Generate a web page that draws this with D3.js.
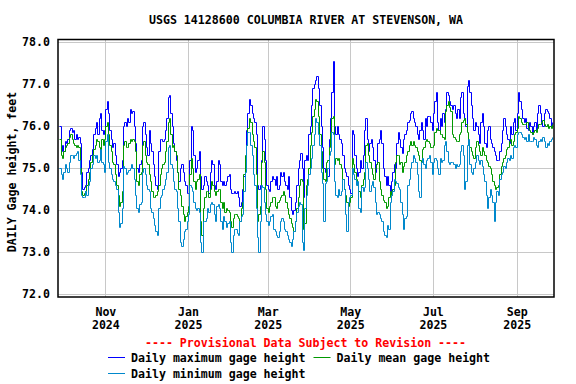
<!DOCTYPE html>
<html><head><meta charset="utf-8">
<title>USGS 14128600 gage height</title>
<script src="https://d3js.org/d3.v7.min.js"></script>
<style>
  body { margin: 0; background: #fff; }
  text { font-family: "DejaVu Sans Mono", monospace; font-weight: bold; }
</style>
</head>
<body>
<div id="container"></div>
<script>
// daily values, first day = startDate
const startDate = "2024-09-28";

const maxHeight = [
  76.0, 75.4, 75.55, 75.4, 75.65, 75.6, 75.7, 75.9, 75.95, 75.85,
  75.9, 75.7, 75.8, 75.7, 75.75, 75.6, 74.9, 74.5, 74.55, 74.6,
  74.9, 75.0, 75.2, 75.3, 75.45, 75.8, 75.95, 76.1, 75.8, 76.2,
  76.3, 75.9, 75.8, 75.9, 76.4, 76.6, 76.3, 75.9, 75.7, 75.5,
  75.6, 75.3, 75.1, 74.8, 74.9, 75.0, 75.2, 76.0, 76.1, 76.0,
  76.2, 76.1, 76.4, 76.3, 76.35, 76.0, 75.6, 75.0, 74.9, 75.1,
  75.2, 76.0, 76.1, 75.8, 75.5, 75.3, 75.9, 75.6, 75.4, 75.1,
  74.8, 74.6, 74.5, 75.4, 75.7, 75.7, 75.65, 75.7, 75.9, 76.2,
  76.7, 76.75, 76.3, 76.0, 75.6, 75.4, 75.2, 74.9, 74.7, 75.0,
  75.1, 74.9, 74.7, 74.6, 74.4, 74.4, 75.2, 76.0, 75.9, 75.3,
  74.9, 75.0, 75.2, 75.4, 74.8, 74.5, 74.6, 74.8, 74.7, 74.6,
  74.4, 74.9, 75.2, 75.1, 74.6, 74.5, 74.7, 75.2, 75.1, 74.7,
  74.6, 74.7, 74.6, 74.7, 74.8, 74.85, 74.5, 74.4, 74.4, 74.45,
  74.4, 74.45, 74.3, 74.1, 74.2, 74.5, 74.8, 75.2, 75.9, 76.3,
  76.65, 76.5, 76.3, 76.2, 76.1, 75.8, 74.6, 74.5, 74.6, 75.2,
  76.0, 75.7, 75.2, 74.6, 74.5, 74.45, 74.7, 74.8, 74.75, 74.6,
  74.8, 74.5, 74.6, 74.9, 74.8, 74.9, 74.7, 74.6, 74.5, 74.8,
  74.3, 74.0, 73.9, 74.0, 74.2, 74.6, 75.0, 75.2, 75.35, 75.0,
  74.3, 75.2, 75.3, 75.2, 75.8, 76.0, 76.5, 76.9, 77.0, 77.1,
  77.2, 76.9, 76.5, 76.0, 75.5, 75.0, 74.9, 75.0, 74.8, 75.7,
  76.2, 76.8, 77.55, 76.0, 75.8, 76.0, 75.8, 75.7, 75.6, 75.3,
  75.0, 74.9, 74.8, 74.6, 74.5, 74.4, 75.9, 75.8, 75.3, 75.0,
  74.8, 74.9, 75.2, 75.0, 75.3, 75.9, 76.2, 75.7, 75.4, 75.6,
  75.7, 75.5, 75.2, 74.9, 75.1, 75.6, 75.7, 75.9, 75.6, 75.0,
  74.8, 74.6, 74.8, 74.6, 74.4, 74.7, 74.9, 75.1, 75.0, 75.6,
  75.85, 75.7, 75.5, 75.35, 75.7, 75.8, 75.9, 76.1, 76.15, 76.3,
  76.35, 76.2, 76.1, 76.0, 75.8, 75.7, 75.9, 76.1, 75.9, 75.7,
  76.2, 76.0, 76.25, 76.25, 76.1, 75.9, 76.3, 76.6, 76.8, 76.1,
  75.9, 76.2, 76.0, 76.3, 76.1, 76.4, 76.8, 76.75, 76.6, 76.5,
  76.4, 76.5, 76.3, 76.2, 76.4, 76.2, 76.7, 76.8, 76.3, 76.2,
  76.0, 76.95, 77.1, 76.8, 76.5, 76.2, 75.9, 76.1, 76.0, 75.8,
  75.6, 76.1, 76.3, 76.0, 75.6, 75.5, 75.9, 76.0, 75.7, 75.6,
  75.5, 75.4, 75.3, 75.2, 75.2, 75.4, 75.6, 75.9, 76.2, 76.0,
  75.8, 75.7, 75.6, 76.0, 75.8, 76.1, 76.2, 75.9, 76.3, 76.8,
  76.6, 76.4, 76.2, 76.1, 76.2, 75.95, 75.9, 76.1, 76.0, 75.8,
  76.0, 76.1, 75.9, 76.3, 76.5, 76.3, 76.1, 76.0, 76.3, 76.4,
  76.35, 76.3, 76.2, 76.0, 76.1
];

const meanHeight = [
  75.7, 75.3, 75.25, 75.4, 75.5, 75.55, 75.6, 75.75, 75.8, 75.7,
  75.6, 75.55, 75.5, 75.55, 75.5, 75.0, 74.45, 74.35, 74.4, 74.45,
  74.6, 74.75, 74.9, 75.15, 75.3, 75.45, 75.55, 75.7, 75.65, 75.5,
  75.4, 75.7, 75.55, 75.7, 76.0, 76.1, 75.8, 75.55, 75.4, 75.15,
  75.1, 74.85, 74.6, 74.35, 74.1, 74.2, 74.45, 75.55, 75.65, 75.5,
  75.5, 75.6, 75.7, 75.65, 75.7, 75.65, 75.4, 74.7, 74.6, 74.85,
  74.9, 75.55, 75.65, 75.3, 75.15, 75.1, 74.85, 74.7, 74.45, 74.3,
  74.3, 74.35, 74.45, 74.6, 74.85, 75.0, 75.1, 75.15, 75.4, 75.65,
  76.1, 76.2, 75.8, 75.5, 75.55, 75.4, 75.3, 74.9, 74.5, 74.35,
  74.1, 73.9, 73.75, 73.85, 73.95, 74.1, 74.85, 75.25, 75.0, 74.7,
  74.5, 74.7, 74.75, 74.85, 73.75, 73.4, 74.05, 74.3, 74.45, 74.45,
  74.3, 74.5, 74.7, 74.6, 74.45, 74.35, 74.45, 74.5, 74.5, 74.2,
  74.05, 74.2, 73.95, 74.05, 74.0, 73.95, 73.75, 73.6, 73.8, 73.9,
  73.9, 73.85, 73.8, 73.75, 74.05, 74.2, 74.85, 75.3, 75.55, 75.95,
  76.2, 76.1, 75.8, 75.65, 75.5, 74.85, 73.75, 73.9, 74.1, 75.15,
  75.4, 75.15, 74.5, 74.05, 73.95, 74.1, 74.2, 74.3, 74.3, 74.1,
  74.05, 74.2, 74.25, 74.3, 74.35, 74.45, 74.35, 74.2, 74.05, 73.9,
  73.8, 73.7, 73.6, 73.5, 73.75, 74.05, 74.3, 74.6, 74.75, 74.7,
  73.55, 73.7, 74.6, 74.75, 75.0, 75.55, 75.85, 76.25, 76.4, 76.65,
  76.6, 76.25, 75.8, 75.4, 75.0, 74.75, 74.7, 75.15, 75.2, 75.5,
  75.85, 76.2, 76.25, 75.1, 75.25, 75.2, 75.25, 75.1, 75.0, 74.75,
  74.5, 74.35, 74.2, 74.1, 74.2, 74.3, 75.25, 75.1, 74.9, 74.75,
  74.6, 74.45, 74.3, 74.6, 74.75, 74.9, 75.55, 75.6, 75.3, 75.15,
  75.0, 74.85, 74.75, 75.0, 75.1, 75.15, 74.7, 74.5, 74.35, 74.25,
  74.2, 74.05, 74.1, 74.3, 74.45, 74.35, 74.5, 74.6, 75.15, 75.3,
  75.3, 75.1, 75.15, 74.9, 75.05, 75.15, 75.3, 75.4, 75.55, 75.65,
  75.55, 75.65, 75.55, 75.5, 75.4, 75.3, 75.2, 75.15, 75.45, 75.5,
  75.65, 75.7, 75.65, 75.6, 75.5, 75.5, 75.55, 75.85, 75.95, 75.9,
  75.9, 75.8, 75.8, 75.75, 75.7, 76.35, 76.5, 76.6, 76.45, 76.35,
  75.8, 75.75, 75.7, 75.65, 75.65, 75.8, 75.85, 76.1, 76.15, 76.2,
  76.05, 75.85, 75.55, 75.5, 75.4, 75.3, 75.25, 75.5, 75.65, 75.55,
  75.4, 75.3, 75.5, 75.4, 75.3, 75.2, 75.15, 75.05, 75.0, 74.85,
  74.7, 74.6, 74.5, 74.55, 74.6, 74.85, 75.05, 75.15, 75.25, 75.3,
  75.45, 75.5, 75.65, 75.7, 75.55, 75.65, 75.8, 75.85, 75.95, 76.25,
  76.2, 76.1, 76.05, 76.05, 76.05, 76.1, 75.95, 75.9, 75.85, 75.8,
  75.85, 75.9, 75.85, 75.95, 76.05, 76.05, 76.1, 76.15, 76.05, 76.0,
  76.05, 75.95, 76.0, 75.95, 76.05
];

const minHeight = [
  75.0, 74.85, 74.75, 74.9, 75.1, 75.0, 74.9, 75.15, 75.3, 75.3,
  75.25, 75.3, 75.35, 75.4, 75.2, 74.85, 74.35, 74.3, 74.3, 74.45,
  74.35, 74.6, 74.7, 75.0, 75.1, 75.3, 75.25, 75.3, 75.15, 75.2,
  75.45, 75.15, 75.1, 74.9, 75.65, 75.8, 75.15, 75.0, 74.85, 74.75,
  74.7, 74.6, 74.5, 73.95, 73.6, 73.7, 74.05, 75.05, 75.0, 74.85,
  74.9, 74.95, 75.0, 75.1, 75.0, 74.75, 74.35, 74.05, 73.95, 74.15,
  74.2, 74.9, 75.0, 74.85, 74.6, 74.5, 74.45, 74.05, 73.95, 73.8,
  73.65, 73.5, 73.4, 74.05, 74.3, 74.35, 74.5, 74.6, 74.75, 74.9,
  75.5, 75.55, 75.1, 75.0, 74.7, 74.5, 74.45, 74.05, 73.75, 73.25,
  73.15, 73.3, 73.5, 73.55, 73.75, 73.9, 74.6, 74.55, 74.45, 74.2,
  74.05, 74.0, 74.05, 73.95, 73.25, 73.0, 73.75, 73.75, 73.8, 74.05,
  73.95, 74.15, 74.2, 74.15, 73.9, 73.75, 74.1, 74.15, 74.05, 73.75,
  73.55, 73.85, 73.75, 73.6, 73.7, 73.75, 73.25, 73.0, 73.4, 73.55,
  73.55, 73.45, 73.4, 73.75, 73.85, 73.9, 74.45, 74.9, 75.55, 75.85,
  75.85, 75.55, 75.3, 74.85, 74.6, 74.05, 73.35, 73.0, 73.75, 74.6,
  74.55, 74.2, 73.9, 73.75, 73.65, 73.75, 73.85, 73.9, 73.55, 73.5,
  73.4, 73.35, 73.5, 73.75, 73.8, 73.75, 73.55, 73.5, 73.4, 73.3,
  73.25, 73.15, 73.3, 73.5, 73.75, 73.95, 74.1, 74.2, 74.15, 73.25,
  73.05, 74.05, 74.35, 74.6, 74.85, 75.0, 75.25, 75.55, 75.8, 76.2,
  76.1, 75.8, 75.55, 74.9, 74.65, 73.75, 74.65, 74.7, 75.0, 75.3,
  75.4, 75.85, 75.8, 74.7, 74.35, 74.3, 74.5, 74.35, 74.45, 74.75,
  74.5, 73.9, 73.5, 74.2, 74.3, 74.35, 75.0, 74.85, 74.75, 74.6,
  74.7, 74.05, 73.95, 74.55, 74.45, 74.55, 75.15, 75.0, 74.75, 74.45,
  74.6, 74.7, 74.55, 74.2, 73.9, 73.95, 73.9, 73.8, 73.75, 73.5,
  73.4, 73.35, 73.65, 73.55, 74.2, 74.35, 74.45, 74.75, 74.7, 74.65,
  74.55, 74.5, 74.2, 73.9, 73.55, 73.8, 73.85, 74.6, 74.75, 75.0,
  75.15, 75.3, 75.25, 75.15, 74.85, 74.45, 74.3, 75.15, 75.25, 75.1,
  75.0, 75.2, 75.25, 75.3, 75.15, 74.85, 75.15, 75.25, 75.2, 75.0,
  74.85, 75.25, 75.15, 75.2, 75.55, 75.65, 75.4, 75.15, 75.1, 75.15,
  75.15, 75.1, 75.0, 75.1, 75.05, 75.1, 75.4, 75.55, 75.3, 74.5,
  74.7, 75.55, 75.7, 75.1, 74.9, 74.85, 75.0, 75.15, 75.3, 75.2,
  75.1, 75.2, 75.05, 74.85, 74.7, 74.35, 74.05, 74.3, 74.5, 74.35,
  74.2, 73.75, 74.2, 74.45, 74.35, 74.75, 74.85, 74.9, 75.05, 75.0,
  75.15, 75.25, 75.2, 75.3, 75.25, 75.5, 75.55, 75.5, 75.8, 75.85,
  75.85, 75.8, 75.75, 75.7, 75.75, 75.65, 75.8, 75.65, 75.65, 75.65,
  75.75, 75.7, 75.55, 75.5, 75.65, 75.7, 75.65, 75.75, 75.65, 75.5,
  75.6, 75.55, 75.65, 75.7, 75.75
];

const yTicks = [72, 73, 74, 75, 76, 77, 78];
const xTickDates = ["2024-11-01", "2025-01-01", "2025-03-01", "2025-05-01", "2025-07-01", "2025-09-01"];
const seriesNames = ["Daily maximum gage height", "Daily mean gage height", "Daily minimum gage height"];
const seriesColors = ["#0000ff", "#009900", "#0088cc"];

// layout
const width = 576, height = 384;
const plot = { left: 58, right: 554, top: 39.5, bottom: 297 };

const parseDay = d3.timeParse("%Y-%m-%d");
const day0 = parseDay(startDate);
const dates = maxHeight.map((v, i) => d3.timeDay.offset(day0, i));

const x = d3.scaleTime()
            .domain([parseDay("2024-09-27"), new Date(2025, 8, 28, 12)])
            .range([plot.left, plot.right]);
const y = d3.scaleLinear()
            .domain([71.929, 78.06])
            .range([plot.bottom, plot.top]);

// snap to pixel centres so 1px lines stay sharp
const px = v => Math.round(v) + 0.5;

const svg = d3.select("#container").append("svg")
              .attr("width", width)
              .attr("height", height)
              .style("background", "#fff");

// gridlines
svg.append("g").selectAll("line.h").data(yTicks)
   .join("line").attr("class", "h")
   .attr("x1", plot.left).attr("x2", plot.right)
   .attr("y1", d => px(y(d))).attr("y2", d => px(y(d)))
   .attr("stroke", "#c8c8c8").attr("stroke-width", 1);

const tickDates = xTickDates.map(parseDay);
svg.append("g").selectAll("line.v").data(tickDates)
   .join("line").attr("class", "v")
   .attr("x1", d => px(x(d))).attr("x2", d => px(x(d)))
   .attr("y1", plot.top).attr("y2", plot.bottom)
   .attr("stroke", "#c8c8c8").attr("stroke-width", 1);

// data lines
const allSeries = [maxHeight, meanHeight, minHeight];
const line = d3.line()
               .x((d, i) => px(x(dates[i])))
               .y(d => px(y(d)))
               .curve(d3.curveStepAfter);

svg.append("g").selectAll("path.series").data(allSeries)
   .join("path").attr("class", "series")
   .attr("d", d => line(d))
   .attr("fill", "none")
   .attr("stroke", (d, i) => seriesColors[i])
   .attr("stroke-width", 1);

// frame
svg.append("rect")
   .attr("x", plot.left).attr("y", plot.top)
   .attr("width", plot.right - plot.left).attr("height", plot.bottom - plot.top)
   .attr("fill", "none").attr("stroke", "#000").attr("stroke-width", 1.5);

// y axis
const yAxis = d3.axisLeft(y).tickValues(yTicks).tickSize(0).tickPadding(8)
                .tickFormat(d3.format(".1f"));
const yAxisArea = svg.append("g").attr("transform", "translate(" + plot.left + ",0)").call(yAxis);
yAxisArea.select(".domain").remove();
yAxisArea.selectAll("text").attr("font-size", "11.6px").attr("fill", "#000")
         .style("font-family", "DejaVu Sans Mono").style("font-weight", "bold");

// x axis, month + year on two lines
const xAxis = d3.axisBottom(x).tickValues(tickDates).tickSize(0).tickPadding(0)
                .tickFormat("");
const xAxisArea = svg.append("g").attr("transform", "translate(0," + plot.bottom + ")").call(xAxis);
xAxisArea.select(".domain").remove();
xAxisArea.selectAll(".tick").each(function(d) {
  const t = d3.select(this);
  t.append("text").attr("y", 18.5).text(d3.timeFormat("%b")(d));
  t.append("text").attr("y", 31.5).text(d3.timeFormat("%Y")(d));
});
xAxisArea.selectAll("text").attr("font-size", "11.6px").attr("fill", "#000")
         .attr("text-anchor", "middle")
         .style("font-family", "DejaVu Sans Mono").style("font-weight", "bold");

// title
svg.append("text").attr("x", 306).attr("y", 24)
   .attr("text-anchor", "middle").attr("font-size", "11.6px")
   .text("USGS 14128600 COLUMBIA RIVER AT STEVENSON, WA");

// y title
svg.append("text")
   .attr("transform", "translate(16,172) rotate(-90)")
   .attr("text-anchor", "middle").attr("font-size", "11.6px")
   .text("DAILY Gage height, feet");

// provisional note
svg.append("text").attr("x", 305.5).attr("y", 347)
   .attr("text-anchor", "middle").attr("font-size", "11.6px").attr("fill", "#ff0000")
   .text("---- Provisional Data Subject to Revision ----");

// legend
const legendPos = [[108, 357.5], [313.5, 357.5], [108, 373.5]];
const legend = svg.append("g").selectAll("g").data(seriesNames)
                  .join("g")
                  .attr("transform", (d, i) => "translate(" + legendPos[i][0] + "," + legendPos[i][1] + ")");
legend.append("line").attr("x1", 0).attr("x2", 17).attr("y1", 0).attr("y2", 0)
      .attr("stroke", (d, i) => seriesColors[i]).attr("stroke-width", 1);
legend.append("text").attr("x", 23).attr("y", 4).attr("font-size", "11.6px")
      .text(d => d);
</script>
</body>
</html>
